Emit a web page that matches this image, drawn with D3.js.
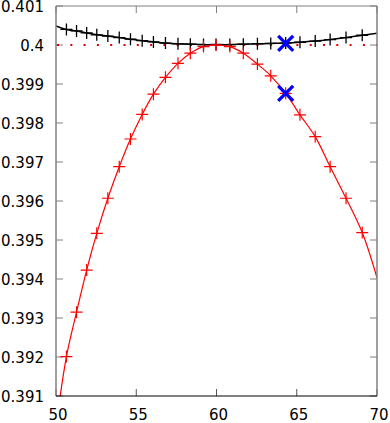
<!DOCTYPE html>
<html lang="en">
<head>
    <meta charset="UTF-8">
    <title>Curve comparison</title>
    <script src="https://d3js.org/d3.v7.min.js"></script>
    <style>
        body {
            margin: 0;
            background-color: #fff;
            font-family: "DejaVu Sans", sans-serif;
        }
        .tick-label {
            font-size: 15px;
            fill: #000;
        }
    </style>
</head>
<body>
    <svg id="chart" width="390" height="423"></svg>
    <script>
        // values
        const xValues = [50.65, 51.28, 51.91, 52.54, 53.23, 53.94, 54.64, 55.37, 56.07, 56.82,
            57.60, 58.37, 59.19, 59.97, 60.83, 61.67, 62.55, 63.38, 64.31, 65.20,
            66.15, 67.08, 68.07, 69.08];
        const redValues = [0.39201, 0.39315, 0.39423, 0.39517, 0.39607, 0.39688, 0.39759, 0.39822,
            0.39874, 0.39917, 0.39953, 0.39979, 0.39996, 0.40000, 0.39996, 0.39979,
            0.39951, 0.39921, 0.39876, 0.39821, 0.39765, 0.39688, 0.39607, 0.39519];
        const blackValues = [0.40040, 0.40036, 0.40031, 0.40026, 0.40023, 0.40019, 0.40015, 0.40011,
            0.40008, 0.40005, 0.40003, 0.40002, 0.40001, 0.40001, 0.40001, 0.40002,
            0.40003, 0.40004, 0.40005, 0.40007, 0.40010, 0.40014, 0.40019, 0.40025];
        // curve ends at the plot edges
        const redEnds = [[50, 0.39022], [70, 0.39403]];
        const blackEnds = [[50, 0.40049], [70, 0.40030]];
        const refValue = 0.4;
        const highlightX = 64.31;
        const highlightValues = [0.40004, 0.39876];
        const xTicks = [50, 55, 60, 65, 70];
        const yTicks = [0.391, 0.392, 0.393, 0.394, 0.395, 0.396, 0.397, 0.398, 0.399, 0.4, 0.401];

        const margin = {left: 56, right: 13, top: 6, bottom: 27};
        const width = 390, height = 423;

        const svg = d3.select("#chart");

        const x = d3.scaleLinear()
            .domain([50, 70])
            .range([margin.left, width - margin.right]);

        const y = d3.scaleLinear()
            .domain([0.391, 0.401])
            .range([height - margin.bottom, margin.top]);

        const x0 = x.range()[0], x1 = x.range()[1];
        const y0 = y.range()[0], y1 = y.range()[1];

        svg.append("clipPath").attr("id", "clip")
            .append("rect")
            .attr("x", x0).attr("y", y1)
            .attr("width", x1 - x0).attr("height", y0 - y1);

        // ticks (inward on all four sides)
        const tickLen = 7;
        const grid = svg.append("g");
        yTicks.forEach(t => {
            grid.append("line").attr("x1", x0).attr("x2", x0 + tickLen)
                .attr("y1", y(t)).attr("y2", y(t)).attr("stroke", "#808080");
            grid.append("line").attr("x1", x1).attr("x2", x1 - tickLen)
                .attr("y1", y(t)).attr("y2", y(t)).attr("stroke", "#808080");
            svg.append("text")
                .attr("class", "tick-label")
                .attr("x", x0 - 12)
                .attr("y", Math.max(y(t) + 5.5, 12))
                .attr("text-anchor", "end")
                .text(+t.toFixed(3));
        });
        xTicks.forEach(t => {
            grid.append("line").attr("x1", x(t)).attr("x2", x(t))
                .attr("y1", y0).attr("y2", y0 - tickLen).attr("stroke", "#555");
            grid.append("line").attr("x1", x(t)).attr("x2", x(t))
                .attr("y1", y1).attr("y2", y1 + tickLen).attr("stroke", "#808080");
            svg.append("text")
                .attr("class", "tick-label")
                .attr("x", x(t) + 2)
                .attr("y", 420)
                .attr("text-anchor", "middle")
                .text(t);
        });

        const plot = svg.append("g").attr("clip-path", "url(#clip)");

        // dotted reference line
        plot.append("line")
            .attr("x1", x(50) + 1).attr("x2", x(70))
            .attr("y1", y(refValue)).attr("y2", y(refValue))
            .attr("stroke", "#e00000")
            .attr("stroke-width", 2)
            .attr("stroke-dasharray", "2,11.3");

        const line = d3.line()
            .x(d => x(d[0]))
            .y(d => y(d[1]))
            .curve(d3.curveCatmullRom);

        const blackPts = xValues.map((v, i) => [v, blackValues[i]]);
        const redPts = xValues.map((v, i) => [v, redValues[i]]);

        function plus(g, pts, color, w) {
            const s = 6;
            g.selectAll(null).data(pts).enter().append("path")
                .attr("d", d => `M${x(d[0]) - s},${y(d[1])}h${2 * s}M${x(d[0])},${y(d[1]) - s}v${2 * s}`)
                .attr("stroke", color)
                .attr("stroke-width", w)
                .attr("fill", "none");
        }

        plot.append("path")
            .datum([blackEnds[0], ...blackPts, blackEnds[1]])
            .attr("d", line)
            .attr("fill", "none")
            .attr("stroke", "#000")
            .attr("stroke-width", 1.5);
        plus(plot, blackPts, "#000", 1.3);

        plot.append("path")
            .datum([redEnds[0], ...redPts, redEnds[1]])
            .attr("d", line)
            .attr("fill", "none")
            .attr("stroke", "#ff0000")
            .attr("stroke-width", 1.2);
        plus(plot, redPts, "#ff0000", 1.2);

        // highlighted points
        const hs = 7.5;
        plot.selectAll(null).data(highlightValues).enter().append("path")
            .attr("d", d => `M${x(highlightX) - hs},${y(d) - hs}l${2 * hs},${2 * hs}M${x(highlightX) - hs},${y(d) + hs}l${2 * hs},${-2 * hs}`)
            .attr("stroke", "#0000ff")
            .attr("stroke-width", 3.3)
            .attr("fill", "none");

        // frame
        svg.append("line").attr("x1", x0).attr("x2", x0).attr("y1", y1).attr("y2", y0)
            .attr("stroke", "#808080").attr("stroke-width", 1.5);
        svg.append("line").attr("x1", x1).attr("x2", x1).attr("y1", y1).attr("y2", y0)
            .attr("stroke", "#808080").attr("stroke-width", 1.5);
        svg.append("line").attr("x1", x0).attr("x2", x1).attr("y1", y1).attr("y2", y1)
            .attr("stroke", "#808080").attr("stroke-width", 1);
        svg.append("line").attr("x1", x0).attr("x2", x1).attr("y1", y0).attr("y2", y0)
            .attr("stroke", "#000").attr("stroke-width", 1);
    </script>
</body>
</html>
